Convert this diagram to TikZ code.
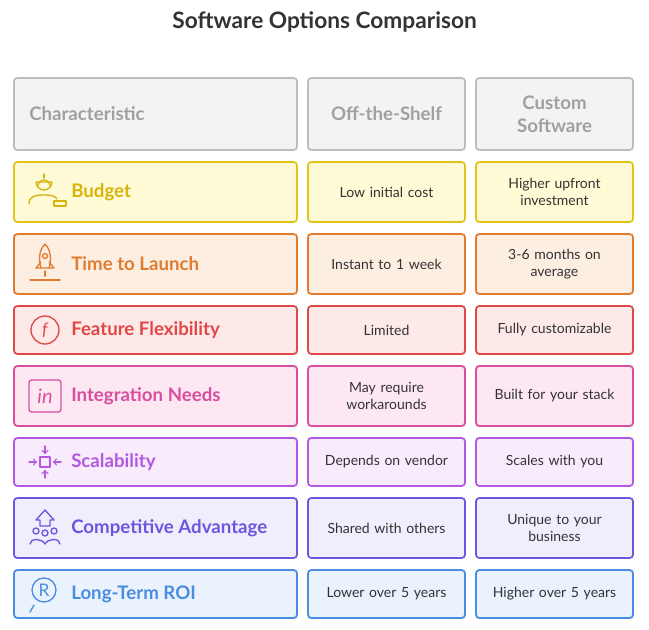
\documentclass[tikz,border=0pt]{standalone}
\usepackage{fontspec}
\setmainfont{Lato}
\begin{document}
\begin{tikzpicture}[x=0.75pt,y=-0.75pt,
  cell/.style={draw=#1, line width=1.3pt, rounded corners=2.5pt},
  lab/.style={font=\fontsize{14}{15}\selectfont\bfseries, anchor=west, inner xsep=0pt},
  val/.style={font=\fontsize{10.5}{12.5}\selectfont, text=txt, align=center, text width=140},
  ic/.style={draw=#1, line width=1pt, line cap=round, line join=round}]
\definecolor{txt}{HTML}{333333}
\definecolor{hb}{HTML}{BDBDBD}\definecolor{hf}{HTML}{F3F3F3}\definecolor{ht}{HTML}{A0A0A0}
\definecolor{c1}{HTML}{E2C419}\definecolor{f1}{HTML}{FEFBD6}\definecolor{t1}{HTML}{D6B40C}
\definecolor{c2}{HTML}{E07B2F}\definecolor{f2}{HTML}{FDEEE2}
\definecolor{c3}{HTML}{E04848}\definecolor{f3}{HTML}{FDE9E8}
\definecolor{c4}{HTML}{D94FA0}\definecolor{f4}{HTML}{FDE7F3}
\definecolor{c5}{HTML}{B358E0}\definecolor{f5}{HTML}{F8EBFC}
\definecolor{c6}{HTML}{6D55E0}\definecolor{f6}{HTML}{EFEEFC}
\definecolor{c7}{HTML}{4A8DE0}\definecolor{f7}{HTML}{EAF2FD}
\useasboundingbox[fill=white] (0,0) rectangle (649,629);
\node[font=\fontsize{17}{19}\selectfont\bfseries, text=txt] (title) at (324.5,22) {Software Options Comparison};
% header
\draw[cell=hb, fill=hf] (14,78) rectangle (297,150);
\draw[cell=hb, fill=hf] (308,78) rectangle (465,150);
\draw[cell=hb, fill=hf] (476,78) rectangle (633,150);
\node[lab, text=ht] (h1) at (29,114) {Characteristic};
\node[font=\fontsize{14}{16}\selectfont\bfseries, text=ht] (h2) at (386.5,114) {Off-the-Shelf};
\node[font=\fontsize{14}{17}\selectfont\bfseries, text=ht, align=center] (h3) at (554.5,114) {Custom\\Software};
% rows
\newcommand\mrow[8]{%
 \draw[cell=#3, fill=#4] (14,#1) rectangle (297,#2);
 \draw[cell=#3, fill=#4] (308,#1) rectangle (465,#2);
 \draw[cell=#3, fill=#4] (476,#1) rectangle (633,#2);
 \node[lab, text=#5] at (71,{(#1+#2)/2}) {#6};
 \node[val] at (386.5,{(#1+#2)/2}) {#7};
 \node[val] at (554.5,{(#1+#2)/2}) {#8};}
\mrow{162}{222}{c1}{f1}{t1}{Budget}{Low initial cost}{Higher upfront\\investment}
\mrow{234}{294}{c2}{f2}{c2}{Time to Launch}{Instant to 1 week}{3-6 months on\\average}
\mrow{306}{354}{c3}{f3}{c3}{Feature Flexibility}{Limited}{Fully customizable}
\mrow{366}{426}{c4}{f4}{c4}{Integration Needs}{May require\\workarounds}{Built for your stack}
\mrow{438}{486}{c5}{f5}{c5}{Scalability}{Depends on vendor}{Scales with you}
\mrow{498}{558}{c6}{f6}{c6}{Competitive Advantage}{Shared with others}{Unique to your\\business}
\mrow{570}{618}{c7}{f7}{c7}{Long-Term ROI}{Lower over 5 years}{Higher over 5 years}
% budget icon
\draw[ic=t1] (36,182) arc (180:0:8) -- cycle;
\draw[ic=t1] (44,174) -- (44,178);
\draw[ic=t1] (38,186) arc (180:360:6);
\draw[ic=t1] (29,204) .. controls (29,197) and (34,195) .. (44,195) .. controls (52,195) and (55,196) .. (57,199);
\draw[ic=t1] (54,201) -- (66,201) -- (66,206) -- (54,206) -- cycle;
% rocket
\draw[ic=c2] (45,244) .. controls (52,251) and (51,262) .. (49,268) -- (41,268) .. controls (39,262) and (38,251) .. (45,244);
\draw[ic=c2] (45,256) circle (2.5);
\draw[ic=c2] (41,262) -- (36,268) -- (41,268);
\draw[ic=c2] (49,262) -- (54,268) -- (49,268);
\draw[ic=c2] (30,280) -- (60,280);
\draw[ic=c2] (45,271) -- (45,276);
% feature
\draw[ic=c3] (45,330) circle (14);
\node[font=\fontsize{13}{13}\selectfont\itshape, text=c3] at (45,330) {f};
% integration
\draw[ic=c4, rounded corners=2pt] (29,380) rectangle (61,412);
\node[font=\fontsize{15}{15}\selectfont\itshape, text=c4] at (45,396) {in};
% scalability
\draw[ic=c5] (40,457) rectangle (50,467);
\draw[ic=c5,->] (29,462) -- (37,462);
\draw[ic=c5,->] (61,462) -- (53,462);
\draw[ic=c5,->] (45,446) -- (45,454);
\draw[ic=c5,->] (45,478) -- (45,470);
% competitive
\draw[ic=c6] (36,520) -- (45,510) -- (54,520) -- (50,520) -- (50,526) -- (40,526) -- (40,520) -- cycle;
\draw[ic=c6] (36,531) circle (3); \draw[ic=c6] (45,533) circle (3); \draw[ic=c6] (54,531) circle (3);
\draw[ic=c6] (30,544) .. controls (30,538) and (42,538) .. (45,544) .. controls (48,538) and (60,538) .. (60,544);
% ROI
\draw[ic=c7] (44,590) circle (12);
\node[font=\fontsize{13}{13}\selectfont, text=c7] at (44,590) {R};
\draw[ic=c7] (34,605) -- (30,612);
\end{tikzpicture}
\end{document}
